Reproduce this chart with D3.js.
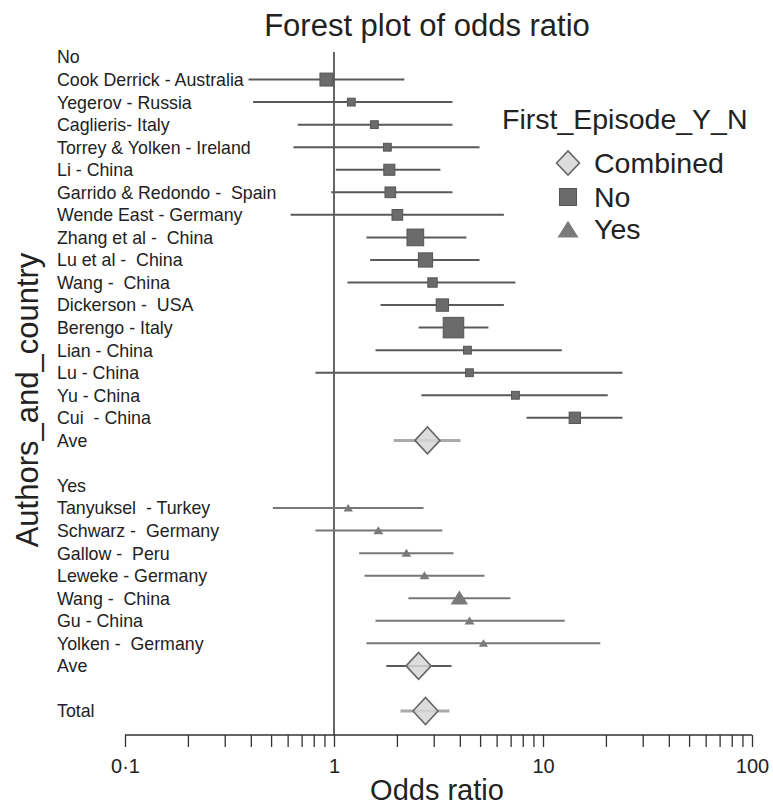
<!DOCTYPE html>
<html>
<head>
<meta charset="utf-8">
<script src="https://cdn.jsdelivr.net/npm/d3@7/dist/d3.min.js"></script>
<style>
  html, body { margin: 0; padding: 0; background: #fff; }
  svg { display: block; font-family: "Liberation Sans", Arial, Helvetica, sans-serif; }
  text { white-space: pre; }
</style>
</head>
<body>
<svg id="chart" width="773" height="805"></svg>
<script>
// Studies without a first episode ("No")
const noStudies = [
  "Cook Derrick - Australia", "Yegerov - Russia", "Caglieris- Italy",
  "Torrey & Yolken - Ireland", "Li - China", "Garrido & Redondo -  Spain",
  "Wende East - Germany", "Zhang et al -  China", "Lu et al -  China",
  "Wang -  China", "Dickerson -  USA", "Berengo - Italy", "Lian - China",
  "Lu - China", "Yu - China", "Cui  - China"
];
const noOR     = [0.92, 1.21, 1.56, 1.80, 1.84, 1.86, 2.01, 2.45, 2.74, 2.96, 3.30, 3.73, 4.35, 4.45, 7.38, 14.2];
const noLower  = [0.39, 0.41, 0.67, 0.64, 1.02, 0.97, 0.62, 1.43, 1.49, 1.16, 1.67, 2.54, 1.58, 0.815, 2.62, 8.34];
const noUpper  = [2.17, 3.69, 3.69, 4.97, 3.23, 3.69, 6.50, 4.30, 4.97, 7.38, 6.50, 5.48, 12.3, 24.0, 20.4, 24.0];
const noWeight = [4.4, 1.6, 1.6, 1.6, 3.2, 3.0, 3.0, 7.3, 5.3, 2.3, 4.0, 11.0, 1.6, 1.6, 1.6, 3.4];

// Studies with a first episode ("Yes")
const yesStudies = [
  "Tanyuksel  - Turkey", "Schwarz -  Germany", "Gallow -  Peru",
  "Leweke - Germany", "Wang -  China", "Gu - China", "Yolken -  Germany"
];
const yesOR     = [1.17, 1.63, 2.22, 2.71, 3.98, 4.45, 5.19];
const yesLower  = [0.51, 0.815, 1.32, 1.40, 2.27, 1.58, 1.43];
const yesUpper  = [2.68, 3.30, 3.73, 5.25, 6.98, 12.7, 18.8];
const yesWeight = [2.3, 2.6, 2.6, 2.6, 8.1, 2.6, 2.2];

// Pooled estimates: [odds ratio, lower, upper]
const aveNo  = [2.80, 1.93, 4.03];
const aveYes = [2.54, 1.78, 3.65];
const total  = [2.74, 2.08, 3.57];

// Axis ticks
const majorTicks = [0.1, 1, 10, 100];
const majorLabels = ["0\u00b71", "1", "10", "100"];
const legendLabels = ["Combined", "No", "Yes"];

// ---- Build the row list (headers, studies, summaries, spacers) ----
const rows = [];
rows.push({ label: "No", kind: "header" });
noStudies.forEach((s, i) => rows.push({ label: s, kind: "No", or: noOR[i], lo: noLower[i], hi: noUpper[i], w: noWeight[i] }));
rows.push({ label: "Ave", kind: "ave", or: aveNo[0], lo: aveNo[1], hi: aveNo[2], line: "light" });
rows.push({ label: "", kind: "blank" });
rows.push({ label: "Yes", kind: "header" });
yesStudies.forEach((s, i) => rows.push({ label: s, kind: "Yes", or: yesOR[i], lo: yesLower[i], hi: yesUpper[i], w: yesWeight[i] }));
rows.push({ label: "Ave", kind: "ave", or: aveYes[0], lo: aveYes[1], hi: aveYes[2], line: "dark" });
rows.push({ label: "", kind: "blank" });
rows.push({ label: "Total", kind: "ave", or: total[0], lo: total[1], hi: total[2], line: "light" });

const svg = d3.select("#chart");

const x = d3.scaleLog().domain([0.1, 100]).range([125, 752]);
const y = d3.scalePoint().domain(d3.range(rows.length)).range([57, 711]);
const size = d3.scaleSqrt().domain([0, 11]).range([0, 20.5]);
const axisY = 735;

// Title and axis titles
svg.append("text").attr("x", 427).attr("y", 36).attr("text-anchor", "middle")
  .attr("font-size", 31).attr("fill", "#222").text("Forest plot of odds ratio");
svg.append("text").attr("x", 437).attr("y", 800).attr("text-anchor", "middle")
  .attr("font-size", 29).attr("fill", "#222").text("Odds ratio");
svg.append("text").attr("transform", "translate(38,400) rotate(-90)").attr("text-anchor", "middle")
  .attr("font-size", 31).attr("fill", "#222").text("Authors_and_country");

// Row labels
svg.append("g").selectAll("text").data(rows).join("text")
  .attr("x", 57).attr("y", (d, i) => y(i)).attr("dy", "0.36em")
  .attr("font-size", 17.8).attr("fill", "#222").text(d => d.label);

// Reference line at OR = 1
svg.append("line").attr("x1", x(1)).attr("x2", x(1)).attr("y1", 52).attr("y2", axisY)
  .attr("stroke", "#333").attr("stroke-width", 1.5);

// Confidence intervals
const marks = rows.map((d, i) => ({ ...d, i })).filter(d => d.or !== undefined);
svg.append("g").selectAll("line").data(marks).join("line")
  .attr("x1", d => x(d.lo)).attr("x2", d => x(d.hi))
  .attr("y1", d => y(d.i)).attr("y2", d => y(d.i))
  .attr("stroke", d => d.line === "light" ? "#aaa" : (d.kind === "Yes" ? "#777" : "#5a5a5a"))
  .attr("stroke-width", d => d.kind === "ave" && d.line === "light" ? 3 : 2);

// Squares for "No" studies
svg.append("g").selectAll("rect").data(marks.filter(d => d.kind === "No")).join("rect")
  .attr("x", d => x(d.or) - size(d.w) / 2).attr("y", d => y(d.i) - size(d.w) / 2)
  .attr("width", d => size(d.w)).attr("height", d => size(d.w))
  .attr("fill", "#6b6b6b").attr("stroke", "#555").attr("stroke-width", 1);

// Triangles for "Yes" studies
const tri = (cx, cy, w) => {
  const h = w * 0.8;
  return `M${cx - w / 2},${cy + h * 0.45}L${cx + w / 2},${cy + h * 0.45}L${cx},${cy - h * 0.55}Z`;
};
svg.append("g").selectAll("path").data(marks.filter(d => d.kind === "Yes")).join("path")
  .attr("d", d => tri(x(d.or), y(d.i), size(d.w)))
  .attr("fill", "#7a7a7a");

// Diamonds for pooled estimates
const diamond = (cx, cy, w, h) => `M${cx - w / 2},${cy}L${cx},${cy - h / 2}L${cx + w / 2},${cy}L${cx},${cy + h / 2}Z`;
svg.append("g").selectAll("path").data(marks.filter(d => d.kind === "ave")).join("path")
  .attr("d", d => diamond(x(d.or), y(d.i), 25, 27))
  .attr("fill", "rgba(215,215,215,0.85)").attr("stroke", "#666").attr("stroke-width", 1.6);

// X axis (log scale with minor ticks)
const allTicks = [];
[0.1, 1, 10].forEach(b => { for (let k = 1; k <= 9; k++) allTicks.push(b * k); });
allTicks.push(100);
const axis = d3.axisBottom(x).tickValues(allTicks).tickSize(12).tickSizeOuter(0)
  .tickFormat(v => { const j = majorTicks.findIndex(m => Math.abs(m - v) < 1e-9); return j >= 0 ? majorLabels[j] : ""; });
const gx = svg.append("g").attr("transform", `translate(0,${axisY})`).call(axis);
gx.select(".domain").attr("stroke", "#333").attr("stroke-width", 1.5).attr("d", `M${x(0.1)},0H${x(100)}`);
gx.selectAll(".tick line").attr("stroke", "#333").attr("stroke-width", 1.3);
gx.selectAll(".tick text").attr("font-size", 20).attr("fill", "#222").attr("dy", "1.15em")
  .attr("font-family", "'Liberation Sans', Arial, sans-serif");

// Legend
const lg = svg.append("g");
lg.append("text").attr("x", 502).attr("y", 129).attr("font-size", 28.5).attr("fill", "#222").text("First_Episode_Y_N");
const legY = [163, 197, 229];
lg.append("path").attr("d", diamond(568, legY[0], 23, 24))
  .attr("fill", "#ddd").attr("stroke", "#666").attr("stroke-width", 1.6);
lg.append("rect").attr("x", 568 - 8.5).attr("y", legY[1] - 8.5).attr("width", 17).attr("height", 17)
  .attr("fill", "#6b6b6b").attr("stroke", "#555");
lg.append("path").attr("d", tri(568, legY[2] + 1, 21)).attr("fill", "#7a7a7a");
lg.selectAll("text.item").data(legendLabels).join("text").attr("class", "item")
  .attr("x", 594).attr("y", (d, i) => legY[i]).attr("dy", "0.36em")
  .attr("font-size", 28.5).attr("fill", "#222").text(d => d);
</script>
</body>
</html>
